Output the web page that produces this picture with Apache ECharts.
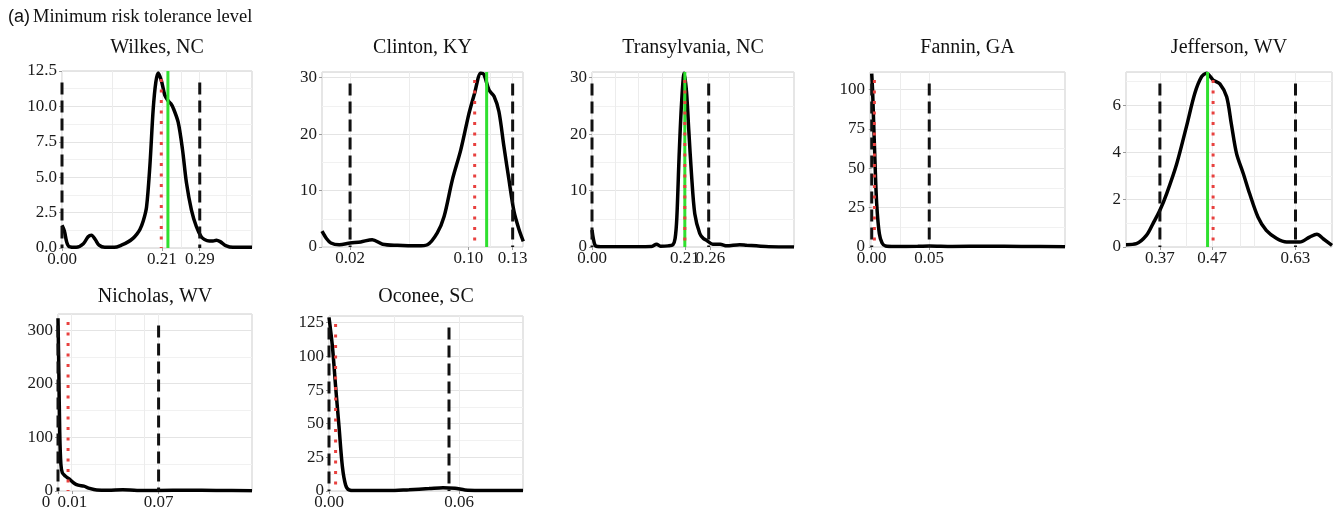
<!DOCTYPE html>
<html>
<head>
<meta charset="utf-8">
<title>Minimum risk tolerance level</title>
<script src="https://cdn.jsdelivr.net/npm/echarts@6/dist/echarts.min.js"></script>
<style>
  html, body { margin: 0; padding: 0; background: #fff; }
  #chart { width: 1338px; height: 521px; }
</style>
</head>
<body>
<div id="chart"></div>
<script>
// panel titles, in drawing order
const countyNames = ['Wilkes, NC', 'Clinton, KY', 'Transylvania, NC', 'Fannin, GA', 'Jefferson, WV', 'Nicholas, WV', 'Oconee, SC'];

// density curves, [x, density]
const wilkesDensity = [[0,1.6],[0.005,1.2],[0.01,0.4],[0.015,0.1],[0.03,0.05],[0.045,0.3],[0.055,0.8],[0.062,0.9],[0.07,0.6],[0.078,0.2],[0.09,0.05],[0.11,0.05],[0.125,0.2],[0.14,0.45],[0.15,0.7],[0.158,1.0],[0.164,1.3],[0.171,1.9],[0.178,2.9],[0.185,5.8],[0.192,9.8],[0.1975,11.7],[0.2024,12.35],[0.2094,11.8],[0.2164,10.8],[0.2234,10.4],[0.229,10.2],[0.234,9.9],[0.2444,8.9],[0.2535,7.0],[0.262,4.6],[0.2724,2.7],[0.283,1.5],[0.293,0.8],[0.3,0.6],[0.31,0.5],[0.318,0.5],[0.325,0.55],[0.333,0.45],[0.346,0.15],[0.36,0.05],[0.4,0.05]];
const clintonDensity = [[0.001,2.8],[0.004,1.5],[0.007,0.7],[0.0127,0.4],[0.02,0.7],[0.0272,0.9],[0.035,1.3],[0.042,0.5],[0.052,0.3],[0.0656,0.2],[0.0723,0.4],[0.079,2.5],[0.0836,5.4],[0.0892,11.9],[0.0949,17.2],[0.1005,23.7],[0.1043,27.3],[0.1084,30.8],[0.1105,30.6],[0.114,27.8],[0.1174,26.7],[0.1207,24],[0.1241,17.8],[0.1275,11.9],[0.1309,6.3],[0.1343,3.1],[0.1372,1.0]];
const transylvaniaDensity = [[0,3.0],[0.003,1.5],[0.008,0.2],[0.02,0.05],[0.1,0.05],[0.135,0.1],[0.146,0.5],[0.155,0.15],[0.172,0.2],[0.183,0.4],[0.188,1.5],[0.192,5.3],[0.197,15.9],[0.2025,25.3],[0.2085,30.8],[0.2138,27.5],[0.219,20.6],[0.225,13],[0.2325,5.9],[0.2438,2.4],[0.252,1.5],[0.2589,1.2],[0.273,0.5],[0.29,0.5],[0.305,0.2],[0.334,0.4],[0.35,0.3],[0.372,0.2],[0.4,0.05],[0.457,0.02]];
const fanninDensity = [[0,110],[0.0007,100],[0.0014,85],[0.0029,53],[0.0043,27.6],[0.0066,8.5],[0.009,2.5],[0.012,0.6],[0.02,0.3],[0.04,0.4],[0.05,0.6],[0.07,0.3],[0.1,0.5],[0.13,0.3],[0.168,0.2]];
const jeffersonDensity = [[0.305,0.1],[0.325,0.14],[0.3445,0.5],[0.357,1.0],[0.37,1.55],[0.383,2.26],[0.402,3.5],[0.421,5.1],[0.437,6.5],[0.45,7.2],[0.4595,7.35],[0.472,7.06],[0.485,6.9],[0.498,6.35],[0.507,5.2],[0.517,3.95],[0.53,3.1],[0.542,2.26],[0.558,1.27],[0.574,0.7],[0.594,0.36],[0.613,0.21],[0.638,0.21],[0.657,0.42],[0.671,0.54],[0.683,0.35],[0.7,0.07]];
const nicholasDensity = [[0,322],[0.0006,220],[0.0012,110],[0.002,50],[0.003,34],[0.005,28],[0.008,22],[0.011,15],[0.014,11],[0.018,9],[0.022,5],[0.027,2],[0.035,1.5],[0.045,2.5],[0.055,1],[0.07,1],[0.09,1.5],[0.11,1],[0.135,0.5]];
const oconeeDensity = [[0,129],[0.0017,107.5],[0.0033,77.7],[0.005,48],[0.0067,18],[0.0083,4.5],[0.01,0.8],[0.013,0.3],[0.03,0.3],[0.04,1.0],[0.05,1.8],[0.057,2.5],[0.063,2.0],[0.068,0.8],[0.075,0.4],[0.097,0.3]];

// reference lines: black dashed pair, red dotted, green solid (null = not drawn)
const dashedLines = [[0, 0.29], [0.02, 0.13], [0, 0.264], [0, 0.05], [0.37, 0.63], [0, 0.07], [0, 0.06]];
const redLines = [0.209, 0.1043, 0.21, 0.0023, 0.472, 0.007, 0.0033];
const greenLines = [0.223, 0.1124, 0.21, null, 0.4614, null, null];

// x axes: range, labelled breaks, vertical grid lines
const xRanges = [[0, 0.40], [0.001, 0.137], [0, 0.457], [-0.0015, 0.168], [0.305, 0.70], [0, 0.135], [0, 0.097]];
const xTickValues = [[0, 0.21, 0.29], [0.02, 0.10, 0.13], [0, 0.21, 0.268], [0, 0.05], [0.37, 0.47, 0.63], [0, 0.01, 0.07], [0, 0.065]];
const xTickText = [['0.00', '0.21', '0.29'], ['0.02', '0.10', '0.13'], ['0.00', '0.21', '0.26'], ['0.00', '0.05'], ['0.37', '0.47', '0.63'], ['0', '0.01', '0.07'], ['0.00', '0.06']];
const xGridValues = [[0, 0.105, 0.21, 0.25, 0.29, 0.345], [0.02, 0.06, 0.10, 0.115, 0.13], [0, 0.052, 0.105, 0.158, 0.21, 0.264, 0.31], [0, 0.025, 0.05], [0.37, 0.42, 0.47, 0.525, 0.55, 0.63], [0, 0.0093, 0.04, 0.06, 0.07], [0, 0.0325, 0.065]];

// y axes
const yMaxes = [12.5, 31, 31, 111, 7.4, 330, 130];
const ySteps = [2.5, 10, 10, 25, 2, 100, 25];

// layout: plot boxes [left, top, width, height]
const boxes = [[62, 71, 190, 177], [322, 72, 201, 175], [592, 72, 202, 175], [870, 72, 195, 175], [1126, 72, 206, 175], [58, 314, 194, 177], [329, 316, 194, 175]];
const densities = [wilkesDensity, clintonDensity, transylvaniaDensity, fanninDensity, jeffersonDensity, nicholasDensity, oconeeDensity];

const serif = '"Liberation Serif", "DejaVu Serif", serif';
const textColor = '#1a1a1a';
const tickFont = 17;

function tickLabel(i, v) {
  const vals = xTickValues[i];
  let k = 0;
  for (let j = 1; j < vals.length; j++) {
    if (Math.abs(vals[j] - v) < Math.abs(vals[k] - v)) k = j;
  }
  // empty end label: keeps echarts from dropping a crowded last label
  if (Math.abs(vals[k] - v) > 1e-9) return '';
  // Nicholas: the "0" label sits left of the axis, away from "0.01"
  if (i === 5 && k === 0) return '{shift|' + xTickText[i][k] + '}';
  return xTickText[i][k];
}

const chart = echarts.init(document.getElementById('chart'));

const grid = [], xAxis = [], yAxis = [], series = [], graphic = [];

boxes.forEach((b, i) => {
  grid.push({
    left: b[0], top: b[1], width: b[2], height: b[3],
    show: true, borderColor: '#cdcdcd', borderWidth: 1, backgroundColor: 'transparent'
  });

  // labelled axis
  xAxis.push({
    gridIndex: i, type: 'value', min: xRanges[i][0], max: xRanges[i][1], position: 'bottom',
    axisLine: { show: false },
    splitLine: { show: false },
    axisTick: { show: true, length: 3, lineStyle: { color: '#9a9a9a' }, customValues: xTickValues[i] },
    axisLabel: {
      customValues: xTickValues[i].concat([xRanges[i][1]]),
      hideOverlap: false, showMinLabel: true, showMaxLabel: true,
      formatter: (v) => tickLabel(i, v),
      margin: 3, color: textColor, fontFamily: serif, fontSize: tickFont,
      rich: { shift: { fontFamily: serif, fontSize: tickFont, color: textColor, padding: [0, 24, 0, 0] } }
    }
  });
  // grid-only axis
  xAxis.push({
    gridIndex: i, type: 'value', min: xRanges[i][0], max: xRanges[i][1], position: 'top',
    axisLine: { show: false },
    axisTick: { show: false, customValues: xGridValues[i] },
    axisLabel: { show: false },
    splitLine: { show: true, lineStyle: { color: '#ececec', width: 1 } }
  });

  const exact = Math.abs(yMaxes[i] / ySteps[i] - Math.round(yMaxes[i] / ySteps[i])) < 1e-6;
  yAxis.push({
    gridIndex: i, type: 'value', min: 0, max: yMaxes[i], interval: ySteps[i],
    axisLine: { show: false },
    axisTick: { show: true, length: 3, lineStyle: { color: '#9a9a9a' } },
    axisLabel: {
      showMaxLabel: exact, showMinLabel: true,
      hideOverlap: false,
      formatter: (v) => (i === 0 ? v.toFixed(1) : String(v)),
      margin: 5, color: textColor, fontFamily: serif, fontSize: tickFont
    },
    splitLine: { show: true, lineStyle: { color: '#e4e4e4', width: 1 } },
    minorTick: { show: false, splitNumber: 2 },
    minorSplitLine: { show: true, lineStyle: { color: '#f1f1f1', width: 1 } }
  });

  const xi = i * 2;
  series.push({
    type: 'line', name: countyNames[i] + ' density', xAxisIndex: xi, yAxisIndex: i,
    data: densities[i], smooth: 0.3, showSymbol: false, symbol: 'none',
    lineStyle: { color: '#000', width: 3.5 }, z: 3
  });

  dashedLines[i].forEach((x) => {
    series.push({
      type: 'line', xAxisIndex: xi, yAxisIndex: i, clip: false, symbol: 'none',
      data: [[x, yMaxes[i] * 0.935], [x, 0]],
      lineStyle: { color: '#111', width: 3, type: [12, 6] }, z: 4
    });
  });

  if (greenLines[i] !== null) {
    series.push({
      type: 'line', xAxisIndex: xi, yAxisIndex: i, clip: false, symbol: 'none',
      data: [[greenLines[i], 0], [greenLines[i], yMaxes[i]]],
      lineStyle: { color: '#2fe02f', width: 3 }, z: 5
    });
  }

  series.push({
    type: 'line', xAxisIndex: xi, yAxisIndex: i, clip: false, symbol: 'none',
    data: [[redLines[i], yMaxes[i] * 0.955], [redLines[i], 0]],
    lineStyle: { color: '#e8413f', width: 3, type: [3, 7.5] }, z: 6
  });

  graphic.push({
    type: 'text', x: b[0] + b[2] / 2, y: i < 5 ? 48 : 297,
    style: { text: countyNames[i], font: '20px ' + serif, fill: '#111', align: 'center', verticalAlign: 'middle' }
  });
});

graphic.push({
  type: 'text', x: 8, y: 17,
  style: { text: '(a)', font: '18px "Liberation Sans", Arial, sans-serif', fill: '#111', align: 'left', verticalAlign: 'middle' }
});
graphic.push({
  type: 'text', x: 33, y: 17,
  style: { text: 'Minimum risk tolerance level', font: '18.5px ' + serif, fill: '#111', align: 'left', verticalAlign: 'middle' }
});

chart.setOption({
  animation: false,
  backgroundColor: '#fff',
  grid, xAxis, yAxis, series, graphic
});
</script>
</body>
</html>
